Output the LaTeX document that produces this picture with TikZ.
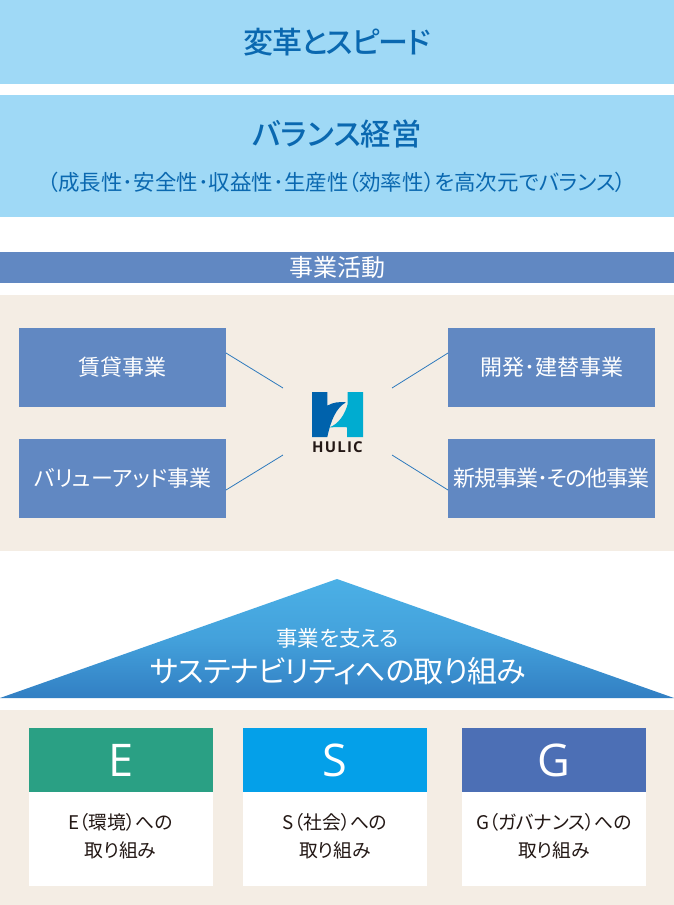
\documentclass[tikz,border=0pt]{standalone}
\usepackage{fontspec}
\setmainfont[RawFeature=+palt]{Noto Sans CJK JP}
\newfontfamily\medf[RawFeature=+palt]{Noto Sans CJK JP Medium}
\newfontfamily\latf{Open Sans}
\definecolor{sky}{HTML}{9FD9F6}
\definecolor{bluetxt}{HTML}{0A68B0}
\definecolor{band}{HTML}{6188C2}
\definecolor{beige}{HTML}{F4EDE4}
\definecolor{linec}{HTML}{2E7ABD}
\definecolor{ecol}{HTML}{2AA084}
\definecolor{scol}{HTML}{04A0E9}
\definecolor{gcol}{HTML}{4C6FB5}
\definecolor{tritop}{HTML}{4BB0E6}
\definecolor{tribot}{HTML}{327FC3}
\definecolor{ink}{HTML}{231815}
\definecolor{logoa}{HTML}{0062AC}
\definecolor{logob}{HTML}{00ACD0}
\tikzset{
 x=1pt,y=-1pt,
 panel/.style={anchor=north west,inner sep=0,outer sep=0,minimum width=#1},
 bizbox/.style={anchor=north west,inner sep=0,outer sep=0,fill=band,minimum width=207pt,minimum height=79pt,text=white,font=\fontsize{22}{26}\selectfont},
 conn/.style={draw=linec,line width=0.8pt},
 head/.style={anchor=north west,inner sep=0,outer sep=0,minimum width=184pt,minimum height=64pt,text=white,font=\latf\fontsize{45}{50}\selectfont},
 body/.style={anchor=north west,inner sep=0,outer sep=0,fill=white,minimum width=184pt,minimum height=94pt,text=ink},
 bodytext/.style={inner sep=0,text=ink,align=center,font=\fontsize{18.8}{28}\selectfont},
}
\begin{document}
\begin{tikzpicture}
\useasboundingbox (0,0) rectangle (674,905);
\fill[white] (0,0) rectangle (674,905);
\node[panel=674pt,fill=sky,minimum height=84pt,text=bluetxt,font=\medf\fontsize{30}{34}\selectfont] (top) at (0,0) {\addfontfeature{LetterSpace=-4}変革とスピード};
\node[panel=674pt,fill=sky,minimum height=122pt] (bal) at (0,95) {};
\node[text=bluetxt,font=\medf\fontsize{30.3}{34}\selectfont,inner sep=0] (balt) at (337,134) {バランス経営};
\node[text=bluetxt,font=\fontsize{21.5}{26}\selectfont,inner sep=0] (bals) at (337,182) {（成長性･安全性･収益性･生産性（効率性）を高次元でバランス）};
\node[panel=674pt,fill=band,minimum height=31pt,text=white,font=\fontsize{24}{28}\selectfont] (act) at (0,252) {事業活動};
\node[panel=674pt,fill=beige,minimum height=256pt] (biz) at (0,295) {};
\node[bizbox] (b1) at (19,328) {賃貸事業};
\node[bizbox] (b2) at (448,328) {開発･建替事業};
\node[bizbox] (b3) at (19,439) {バリューアッド事業};
\node[bizbox] (b4) at (448,439) {\addfontfeature{LetterSpace=-5.5}新規事業･その他事業};
% logo
\fill[logoa] (312,392) -- (327.3,392) -- (327.3,405.7) .. controls (332,402.5) and (340,401.5) .. (346,402.3) .. controls (336,408) and (331,420) .. (327.3,437) -- (312,437) -- cycle;
\fill[logob] (347.7,392) -- (363,392) -- (363,437) -- (347,437) -- (347,427.3) .. controls (342,426.8) and (336,427) .. (329,427.5) .. controls (339,424) and (345,414) .. (347.7,404) -- cycle;
\node[inner sep=0,text=ink,font=\latf\bfseries\fontsize{15}{17}\selectfont] (logo) at (337.5,447.5) {\addfontfeature{LetterSpace=8}HULIC};
\draw[conn] (b1.east |- 0,353) -- (283,388);
\draw[conn] (b2.west |- 0,353) -- (392,388);
\draw[conn] (b3.east |- 0,490) -- (283,455);
\draw[conn] (b4.west |- 0,490) -- (392,455);
% triangle
\shade[bottom color=tribot,top color=tritop,middle color=tritop!70!tribot,shading angle=0]
 (337,579) -- (674,698) -- (0,698) -- cycle;
\node[text=white,inner sep=0,font=\fontsize{21.5}{25}\selectfont] (t1) at (337.5,638) {事業を支える};
\node[text=white,inner sep=0,font=\fontsize{30}{35}\selectfont] (t2) at (338,671) {\addfontfeature{LetterSpace=-2.3}サステナビリティへの取り組み};
\node[panel=674pt,fill=beige,minimum height=195pt] (esg) at (0,710) {};
\node[head,fill=ecol] (e) at (29,728) {E};
\node[body] (eb) at (29,792) {};
\node[bodytext] at (120.5,836) {E（環境）への\\取り組み};
\node[head,fill=scol] (s) at (243,728) {S};
\node[body] (sb) at (243,792) {};
\node[bodytext] at (335,836) {S（社会）への\\取り組み};
\node[head,fill=gcol] (g) at (462,728) {G};
\node[body] (gb) at (462,792) {};
\node[bodytext] at (554,836) {G（ガバナンス）への\\取り組み};
\end{tikzpicture}
\end{document}
